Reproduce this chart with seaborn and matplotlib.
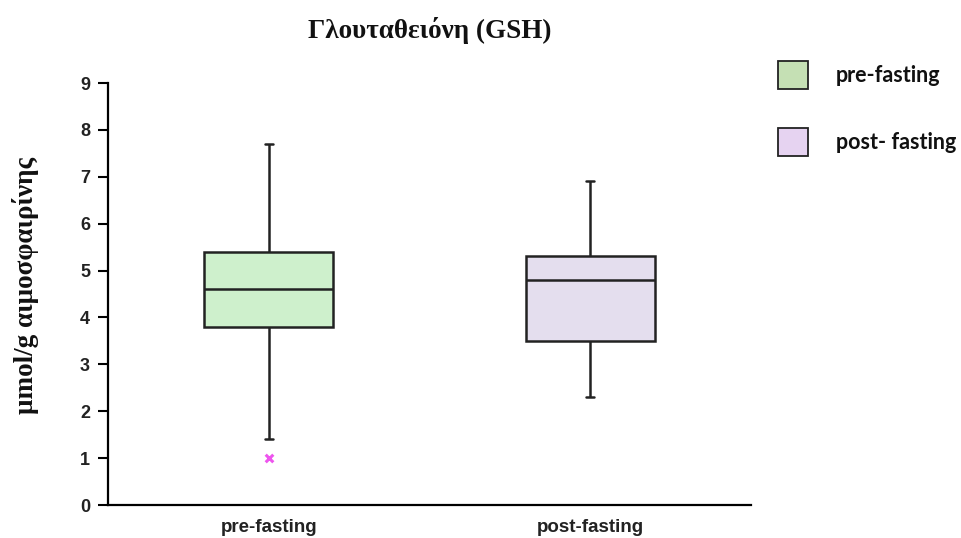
import numpy as np
import pandas as pd
import matplotlib
matplotlib.use("Agg")
import matplotlib.pyplot as plt
from matplotlib.patches import Patch
import seaborn as sns

# ---- data ----
categories = ["pre-fasting", "post-fasting"]
legend_labels = ["pre-fasting", "post- fasting"]
whisker_low = [1.4, 2.3]
q1 = [3.8, 3.5]
median = [4.6, 4.8]
q3 = [5.4, 5.3]
whisker_high = [7.7, 6.9]
outlier_cat = ["pre-fasting"]
outlier_val = [1.0]
yticks = [0, 1, 2, 3, 4, 5, 6, 7, 8, 9]

box_colors = ["#CEF0CC", "#E4DEEE"]
legend_colors = ["#C5E0B4", "#E6D3F1"]

rows = []
for i, c in enumerate(categories):
    for v in (whisker_low[i], q1[i], median[i], q3[i], whisker_high[i]):
        rows.append({"group": c, "value": v})
df = pd.DataFrame(rows)
df_out = pd.DataFrame({"group": outlier_cat, "value": outlier_val})

sns.set_style("white")
fig = plt.figure(figsize=(9.62, 5.38), dpi=100)
ax = fig.add_axes([108 / 962, 1 - 505 / 538, (751 - 108) / 962, (505 - 83) / 538])

sns.boxplot(data=df, x="group", y="value", hue="group", order=categories,
            hue_order=categories, palette=box_colors, saturation=1, width=0.4,
            whis=np.inf, linewidth=1.8, linecolor="#222222", showfliers=False,
            legend=False, ax=ax, capwidths=0.025)

sns.scatterplot(data=df_out, x="group", y="value", marker="x", color="#EE55EE",
                s=30, linewidth=2.2, ax=ax, legend=False, zorder=5)

ax.set_xlim(-0.5, 1.5)
ax.set_ylim(0, 9)
ax.set_yticks(yticks)
ax.set_yticklabels([str(t) for t in yticks], fontfamily="Liberation Sans",
                   fontweight="bold", fontsize=13, color="#222222")
ax.set_xticks([0, 1])
ax.set_xticklabels(categories, fontfamily="Liberation Sans",
                   fontweight="bold", fontsize=13.5, color="#222222")
ax.set_xticks([-0.5, 0.5, 1.5], minor=True)
ax.tick_params(axis="x", which="major", length=0, pad=10)
ax.tick_params(axis="x", which="minor", length=4, width=1.5, direction="out", color="black")
ax.tick_params(axis="y", length=7, width=1.5, direction="out", color="black", pad=6, left=True)

for s in ["top", "right"]:
    ax.spines[s].set_visible(False)
for s in ["left", "bottom"]:
    ax.spines[s].set_color("black")
    ax.spines[s].set_linewidth(1.6)

ax.set_xlabel("")
ax.set_ylabel("μmol/g αιμοσφαιρίνης", fontfamily="Liberation Serif",
              fontweight="bold", fontsize=19.5, color="#111111")
ax.yaxis.set_label_coords(-0.108, 0.521)

fig.text(430 / 962, 1 - 31 / 538, "Γλουταθειόνη (GSH)", ha="center", va="center",
         fontfamily="Liberation Serif", fontweight="bold", fontsize=19.5, color="#111111")

handles = [Patch(facecolor=legend_colors[i], edgecolor="#222222", linewidth=1.3,
                 label=legend_labels[i]) for i in range(2)]
leg = fig.legend(handles=handles, loc="upper left",
                 bbox_to_anchor=(778 / 962, 1 - 61 / 538), frameon=False,
                 prop={"family": "Lato", "weight": "bold", "size": 15.5},
                 handlelength=1.4, handleheight=1.6, handletextpad=1.3,
                 labelspacing=1.82, borderaxespad=0, borderpad=0)
for t in leg.get_texts():
    t.set_color("#111111")

fig.savefig("out.png", dpi=100)
